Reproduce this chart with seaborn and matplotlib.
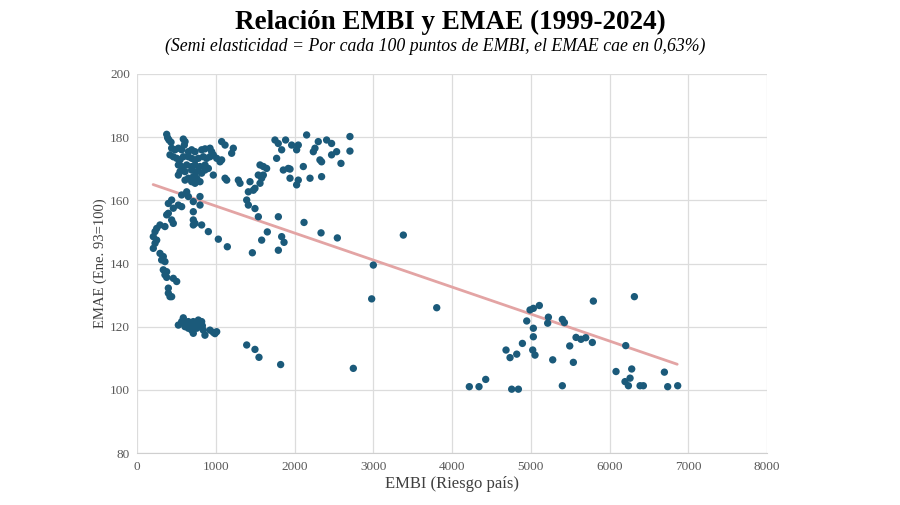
import matplotlib
matplotlib.use("Agg")
import matplotlib.pyplot as plt
import seaborn as sns
import pandas as pd

# ---- data (EMBI, EMAE) ----
embi_top = [377, 389, 406, 432, 588, 610, 601, 1075, 1118, 1223, 1202, 440, 483, 525, 567,
            652, 694, 737, 821, 864, 927, 948, 969, 419, 461, 504, 546, 588, 652, 694, 737,
            779, 842, 885, 927, 1012, 1054, 1075, 525, 567, 631, 694, 737, 800, 864, 906,
            546, 610, 694, 758, 821, 864, 525, 652, 715, 758, 800, 737, 694, 610, 969, 1118,
            1139, 1287, 1308]
emae_top = [180.9, 179.8, 179.1, 178.4, 179.4, 178.6, 177.5, 178.6, 177.5, 176.5, 174.9, 176.5,
            176.0, 176.5, 176.0, 175.4, 176.0, 175.4, 176.0, 176.3, 176.5, 175.4, 174.4, 174.4,
            173.8, 173.3, 172.8, 173.8, 173.8, 173.3, 172.8, 173.3, 173.8, 173.3, 173.8, 173.3,
            172.2, 172.8, 171.2, 170.7, 171.2, 170.7, 171.2, 170.7, 171.2, 170.1, 169.1, 169.1,
            169.6, 169.1, 168.6, 169.6, 168.0, 167.0, 167.5, 167.0, 165.9, 165.4, 165.9, 166.4,
            168.0, 167.0, 166.4, 166.4, 165.4]

embi_left = [631, 567, 652, 715, 800, 800, 440, 398, 525, 567, 461, 398, 377, 715, 715, 737,
             715, 440, 461, 821, 906, 1033, 1147, 292, 355, 250, 229, 207, 250, 229, 207, 292,
             334, 313, 355, 334, 377, 355, 377, 461, 504, 398, 398, 419, 440]
emae_left = [162.7, 161.7, 161.2, 159.6, 161.2, 158.5, 160.1, 159.0, 158.5, 158.0, 157.5, 155.9,
             155.4, 156.4, 153.8, 152.7, 152.2, 153.8, 152.7, 152.2, 150.1, 147.7, 145.3, 152.2,
             151.7, 151.1, 150.1, 148.5, 147.4, 146.4, 144.8, 143.2, 142.2, 141.1, 140.6, 138.0,
             137.4, 136.4, 135.6, 135.3, 134.3, 132.2, 130.6, 129.5, 129.5]

embi_low = [588, 567, 525, 609, 652, 673, 715, 779, 821, 800, 758, 694, 715, 842, 863, 969,
            1012, 652, 609, 927, 737, 630, 680, 760, 600, 830, 990,
            1393, 1498, 1549, 1824, 2747, 2980, 3001]
emae_low = [122.8, 121.6, 120.5, 121.0, 121.6, 120.5, 121.6, 122.1, 121.6, 120.0, 119.5, 118.9,
            117.9, 118.9, 117.3, 118.2, 118.4, 119.5, 120.0, 118.9, 120.5, 120.2, 119.8, 121.0,
            120.8, 120.3, 117.8,
            114.2, 112.8, 110.3, 108.0, 106.8, 128.8, 139.5]

embi_mid = [2154, 2704, 1752, 1794, 1887, 1964, 2048, 2027, 1837, 2302, 2260, 2239, 2408, 2471,
            2535, 2471, 2704, 2323, 2344, 2590, 1773, 2112, 1858, 1921, 1943, 1943, 2048, 2027,
            2197, 2344, 1562, 1604, 1646, 1540, 1583, 1604, 1562, 1498,
            1435, 1414, 1477, 1393, 1414, 1498, 1541, 1795, 2121, 1655, 1583, 1837, 1867, 1795,
            1465, 2337, 2544, 3382]
emae_mid = [180.7, 180.2, 179.1, 178.0, 179.1, 177.5, 177.5, 176.0, 176.0, 178.6, 176.5, 175.4,
            179.1, 178.0, 175.4, 174.4, 175.6, 172.8, 172.2, 171.7, 173.3, 170.7, 169.6, 170.1,
            169.9, 167.0, 166.4, 164.9, 167.0, 167.5, 171.2, 170.7, 170.1, 168.0, 167.0, 168.0,
            165.4, 163.8,
            165.9, 162.7, 163.2, 160.1, 158.5, 157.4, 154.8, 154.8, 153.0, 150.0, 147.4, 148.5,
            146.7, 144.2, 143.4, 149.7, 148.1, 149.0]

embi_right = [3806, 4991, 5033, 5109, 4949, 5224, 5215, 5401, 5427, 5795, 6316, 5033, 5033, 5025,
              5054, 4894, 4686, 4737, 4822, 5279, 5495, 5541, 5575, 5638, 5698, 5782, 6206, 6083,
              6282, 6197, 6261, 6240, 6388, 6430, 6697, 6739, 6866, 4220, 4343, 4428, 4758, 4843,
              5401]
emae_right = [126.0, 125.3, 125.8, 126.7, 121.8, 123.0, 121.1, 122.3, 121.3, 128.1, 129.5, 119.5,
              116.8, 112.6, 111.0, 114.7, 112.6, 110.2, 111.3, 109.5, 113.9, 108.7, 116.6, 116.0,
              116.5, 115.0, 114.0, 105.8, 106.6, 102.6, 103.7, 101.3, 101.3, 101.3, 105.6, 101.0,
              101.3, 101.0, 101.0, 103.3, 100.2, 100.2, 101.3]

trend_embi = [205, 6860]
trend_emae = [165.0, 108.1]

x_ticks = [0, 1000, 2000, 3000, 4000, 5000, 6000, 7000, 8000]
y_ticks = [80, 100, 120, 140, 160, 180, 200]

title = "Relación EMBI y EMAE (1999-2024)"
subtitle = "(Semi elasticidad = Por cada 100 puntos de EMBI, el EMAE cae en 0,63%)"
xlabel = "EMBI (Riesgo país)"
ylabel = "EMAE (Ene. 93=100)"

# ---- build tables ----
df = pd.DataFrame({
    "EMBI": embi_top + embi_left + embi_low + embi_mid + embi_right,
    "EMAE": emae_top + emae_left + emae_low + emae_mid + emae_right,
})
trend = pd.DataFrame({"EMBI": trend_embi, "EMAE": trend_emae})

sns.set_style("white")
plt.rcParams["font.family"] = ["Liberation Serif", "DejaVu Serif"]

fig = plt.figure(figsize=(9, 5.05), dpi=100)
ax = fig.add_axes([137 / 900, 1 - 453 / 505, 630 / 900, 379 / 505])

ax.set_xlim(0, 8000)
ax.set_ylim(80, 200)
ax.set_xticks(x_ticks)
ax.set_yticks(y_ticks)
ax.grid(True, color="#dcdcdc", linewidth=0.9)
ax.set_axisbelow(True)
for s in ["top", "right", "left"]:
    ax.spines[s].set_visible(False)
ax.spines["bottom"].set_color("#cfcfcf")
ax.tick_params(axis="x", length=0, labelsize=9.5, labelcolor="#595959", pad=6)
ax.tick_params(axis="y", length=0, labelsize=9.5, labelcolor="#595959", pad=5)

sns.lineplot(data=trend, x="EMBI", y="EMAE", ax=ax, color="#e3a4a4", linewidth=2.0, zorder=2)
sns.scatterplot(data=df, x="EMBI", y="EMAE", ax=ax, color="#1b5a7a", s=28,
                edgecolor="none", zorder=3)

ax.set_xlabel(xlabel, fontsize=12, color="#404040", labelpad=2)
ax.set_ylabel(ylabel, fontsize=10.5, color="#404040", labelpad=2)

fig.text(0.5, 1 - 22 / 505, title, ha="center", va="center", fontsize=19.5,
         fontweight="bold", color="black")
fig.text(435 / 900, 1 - 46 / 505, subtitle, ha="center", va="center", fontsize=12.8,
         fontstyle="italic", color="black")

fig.savefig("out.png", dpi=100)
